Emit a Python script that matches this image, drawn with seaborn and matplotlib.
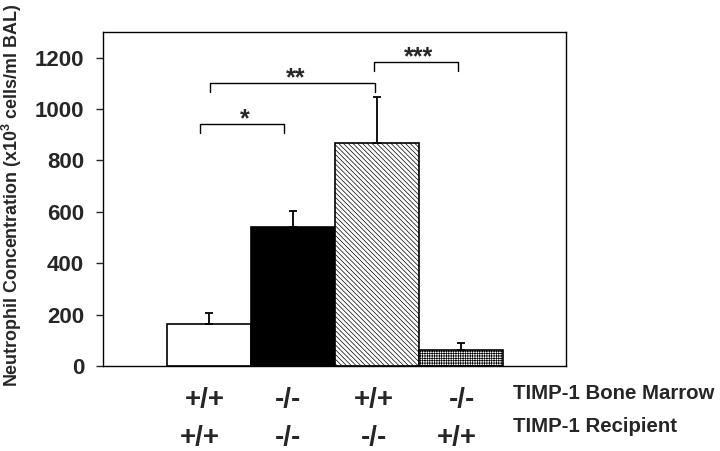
import numpy as np
import pandas as pd
import seaborn as sns
import matplotlib.pyplot as plt

# data
groups = ["BM+/+ R+/+", "BM-/- R-/-", "BM+/+ R-/-", "BM-/- R+/+"]
means = [164, 541, 869, 62]
sem = [42, 63, 179, 28]
bone_marrow = ["+/+", "-/-", "+/+", "-/-"]
recipient = ["+/+", "-/-", "-/-", "+/+"]
row_names = ["TIMP-1 Bone Marrow", "TIMP-1 Recipient"]
# significance brackets: (x left, x right, y top, label)
brackets = [(-0.11, 0.89, 943, "*"), (0.01, 1.98, 1102, "**"), (1.96, 2.96, 1184, "***")]

sns.set_theme(style="white")
plt.rcParams["font.family"] = ["Liberation Sans", "DejaVu Sans"]
plt.rcParams["font.weight"] = "bold"
plt.rcParams["mathtext.fontset"] = "custom"
plt.rcParams["mathtext.bf"] = "Liberation Sans:bold"
plt.rcParams["hatch.linewidth"] = 0.5

df = pd.DataFrame({"group": groups, "value": means})

fig = plt.figure(figsize=(7.2, 4.51), dpi=100)
ax = fig.add_axes([0.143, 0.1885, 0.643, 0.741])

sns.barplot(data=df, x="group", y="value", width=1.0, ax=ax,
            color="white", edgecolor="black", linewidth=1.2, errorbar=None)
fills = ["white", "black", "white", "white"]
hatches = [None, None, "\\\\\\\\\\\\\\", "+++++++"]
for p, fc, h in zip(ax.patches, fills, hatches):
    p.set_facecolor(fc)
    if h:
        p.set_hatch(h)

x = np.arange(len(groups))
ax.errorbar(x, means, yerr=[np.zeros(len(sem)), sem], fmt="none",
            ecolor="black", elinewidth=1.3, capsize=3, capthick=1.3)

for x0, x1, yt, lab in brackets:
    ax.plot([x0, x0, x1, x1], [yt - 38, yt, yt, yt - 38], color="black", lw=1.0)
    ax.text((x0 + x1) / 2 + 0.04, yt - 10, lab, ha="center", va="baseline",
            fontsize=18, fontweight="bold")

ax.set_xlim(-1.26, 4.25)
ax.set_ylim(0, 1300)
ax.set_yticks(range(0, 1201, 200))
ax.set_xticks([])
ax.set_xlabel("")
ax.set_ylabel(r"Neutrophil Concentration (x10$^{\mathbf{3}}$ cells/ml BAL)",
              fontsize=12.9, fontweight="bold")
ax.yaxis.set_label_coords(-0.171, 0.51)
ax.tick_params(axis="y", left=True, length=5, width=1, pad=8.5, labelsize=16)
for lbl in ax.get_yticklabels():
    lbl.set_fontweight("bold")
for s in ax.spines.values():
    s.set_visible(True)
    s.set_color("black")
    s.set_linewidth(1.0)

# genotype rows under the bars
row1_x = [-0.05, 0.94, 1.96, 3.01]
row2_x = [-0.11, 0.94, 1.96, 2.95]
tr = ax.get_xaxis_transform()
for i in range(len(groups)):
    ax.text(row1_x[i], -0.102, bone_marrow[i], transform=tr,
            ha="center", va="center", fontsize=20, fontweight="bold")
    ax.text(row2_x[i], -0.215, recipient[i], transform=tr,
            ha="center", va="center", fontsize=20, fontweight="bold")
ax.text(3.62, -0.081, row_names[0], transform=tr,
        ha="left", va="center", fontsize=14.7, fontweight="bold")
ax.text(3.62, -0.18, row_names[1], transform=tr,
        ha="left", va="center", fontsize=14.7, fontweight="bold")

fig.savefig("out.png", dpi=100)
